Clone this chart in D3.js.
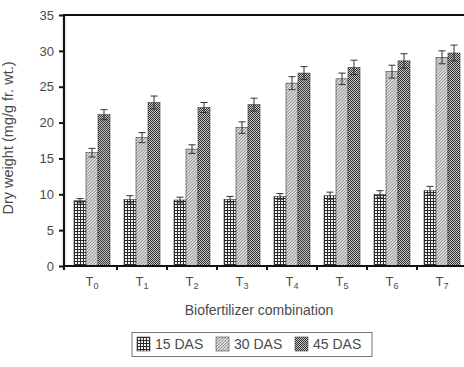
<!DOCTYPE html>
<html>
<head>
<meta charset="utf-8">
<script src="https://cdn.jsdelivr.net/npm/d3@7/dist/d3.min.js"></script>
<style>
  html, body { margin: 0; padding: 0; background: #fff; }
  svg { display: block; font-family: "Liberation Sans", Arial, sans-serif; }
</style>
</head>
<body>
<svg id="chart" width="464" height="367"></svg>
<script>
// Treatments (T0..T7) and sampling stages
const treatments = ["0", "1", "2", "3", "4", "5", "6", "7"];
const stages = ["15 DAS", "30 DAS", "45 DAS"];

// Dry weight (mg/g fr. wt.) per treatment, one array per stage
const das15 = [9.1, 9.3, 9.2, 9.3, 9.7, 9.8, 10.0, 10.5];
const das30 = [15.8, 17.9, 16.3, 19.3, 25.5, 26.1, 27.1, 29.1];
const das45 = [21.1, 22.8, 22.1, 22.5, 26.9, 27.7, 28.6, 29.7];

// Standard errors
const err15 = [0.3, 0.5, 0.4, 0.4, 0.4, 0.5, 0.5, 0.6];
const err30 = [0.6, 0.7, 0.6, 0.8, 0.9, 0.8, 0.9, 0.9];
const err45 = [0.7, 0.9, 0.7, 0.9, 0.9, 1.0, 1.0, 1.1];

const yTicks = [0, 5, 10, 15, 20, 25, 30, 35];

const seriesValues = [das15, das30, das45];
const seriesErrors = [err15, err30, err45];

const svg = d3.select("#chart");
const textColor = "#4a4a4a";

// Fill patterns for the three stages
const defs = svg.append("defs");
const pGrid = defs.append("pattern").attr("id", "pat0")
  .attr("patternUnits", "userSpaceOnUse").attr("width", 3).attr("height", 3);
pGrid.append("rect").attr("width", 3).attr("height", 3).attr("fill", "#f4f4f4");
pGrid.append("rect").attr("width", 3).attr("height", 1).attr("fill", "#2a2a2a");
pGrid.append("rect").attr("width", 1).attr("height", 3).attr("fill", "#2a2a2a");

const pDiag = defs.append("pattern").attr("id", "pat1")
  .attr("patternUnits", "userSpaceOnUse").attr("width", 2.2).attr("height", 2.2)
  .attr("patternTransform", "rotate(45)");
pDiag.append("rect").attr("width", 2.2).attr("height", 2.2).attr("fill", "#e6e6e6");
pDiag.append("rect").attr("width", 0.9).attr("height", 2.2).attr("fill", "#8c8c8c");

const pDots = defs.append("pattern").attr("id", "pat2")
  .attr("patternUnits", "userSpaceOnUse").attr("width", 2).attr("height", 2);
pDots.append("rect").attr("width", 2).attr("height", 2).attr("fill", "#c8c8c8");
pDots.append("rect").attr("width", 1).attr("height", 1).attr("fill", "#2e2e2e");
pDots.append("rect").attr("x", 1).attr("y", 1).attr("width", 1).attr("height", 1).attr("fill", "#2e2e2e");

// Scales
const x0 = d3.scaleBand().domain(treatments).range([67, 467])
  .paddingInner(0.28).paddingOuter(0.14);
const x1 = d3.scaleBand().domain(d3.range(stages.length)).range([0, x0.bandwidth()]);
const y = d3.scaleLinear().domain([0, 35]).range([266, 15]);

const axisLeft = 64;

// Bars
const groups = svg.append("g").selectAll("g")
  .data(treatments).join("g")
  .attr("transform", d => `translate(${x0(d)},0)`);

groups.selectAll("rect")
  .data((d, i) => stages.map((s, k) => ({ k, v: seriesValues[k][i], e: seriesErrors[k][i] })))
  .join("rect")
  .attr("x", d => x1(d.k))
  .attr("y", d => y(d.v))
  .attr("width", x1.bandwidth())
  .attr("height", d => y(0) - y(d.v))
  .attr("fill", d => `url(#pat${d.k})`)
  .attr("stroke", "#3a3a3a")
  .attr("stroke-width", 0.6);

// Error bars
const eb = groups.selectAll("g.err")
  .data((d, i) => stages.map((s, k) => ({ k, v: seriesValues[k][i], e: seriesErrors[k][i] })))
  .join("g").attr("class", "err")
  .attr("stroke", "#333").attr("stroke-width", 1);
eb.append("line")
  .attr("x1", d => x1(d.k) + x1.bandwidth() / 2)
  .attr("x2", d => x1(d.k) + x1.bandwidth() / 2)
  .attr("y1", d => y(d.v - d.e)).attr("y2", d => y(d.v + d.e));
[1, -1].forEach(s => {
  eb.append("line")
    .attr("x1", d => x1(d.k) + x1.bandwidth() / 2 - 3.5)
    .attr("x2", d => x1(d.k) + x1.bandwidth() / 2 + 3.5)
    .attr("y1", d => y(d.v + s * d.e)).attr("y2", d => y(d.v + s * d.e));
});

// Y axis
const yAxis = svg.append("g")
  .attr("transform", `translate(${axisLeft},0)`)
  .call(d3.axisLeft(y).tickValues(yTicks).tickSize(5).tickPadding(5).tickFormat(d3.format("d")));
yAxis.select(".domain").remove();
yAxis.selectAll(".tick line").attr("stroke", "#111").attr("stroke-width", 2);
yAxis.selectAll(".tick text").attr("fill", textColor).attr("font-size", 13)
  .attr("font-family", "Liberation Sans, Arial, sans-serif");

// Frame lines: left axis, baseline, top line
svg.append("line").attr("x1", axisLeft).attr("x2", axisLeft)
  .attr("y1", y(35) - 1).attr("y2", y(0) + 4)
  .attr("stroke", "#111").attr("stroke-width", 2.2);
svg.append("line").attr("x1", axisLeft - 1).attr("x2", 464)
  .attr("y1", y(0)).attr("y2", y(0))
  .attr("stroke", "#111").attr("stroke-width", 2.2);
svg.append("line").attr("x1", axisLeft - 1).attr("x2", 464)
  .attr("y1", y(35)).attr("y2", y(35))
  .attr("stroke", "#111").attr("stroke-width", 2.2);

// X axis: ticks between groups, labels T with subscript
const step = x0.step();
const boundaries = treatments.slice(1).map(t => x0(t) - x0.paddingInner() * step / 2);
svg.append("g").selectAll("line").data(boundaries).join("line")
  .attr("x1", d => d).attr("x2", d => d)
  .attr("y1", y(0)).attr("y2", y(0) + 4)
  .attr("stroke", "#111").attr("stroke-width", 2);

const xl = svg.append("g").selectAll("text").data(treatments).join("text")
  .attr("x", d => x0(d) + x0.bandwidth() / 2)
  .attr("y", 286)
  .attr("text-anchor", "middle")
  .attr("fill", textColor)
  .attr("font-size", 13);
xl.append("tspan").text("T");
xl.append("tspan").attr("font-size", 9).attr("dy", 3).text(d => d);

// Axis titles
svg.append("text")
  .attr("x", 259).attr("y", 315)
  .attr("text-anchor", "middle")
  .attr("fill", textColor).attr("font-size", 14)
  .text("Biofertilizer combination");

svg.append("text")
  .attr("transform", "translate(13,138) rotate(-90)")
  .attr("text-anchor", "middle")
  .attr("fill", textColor).attr("font-size", 14.5)
  .text("Dry weight (mg/g fr. wt.)");

// Legend
const legend = svg.append("g");
legend.append("rect")
  .attr("x", 132).attr("y", 332.5).attr("width", 240).attr("height", 24)
  .attr("fill", "#fff").attr("stroke", "#777").attr("stroke-width", 1);
const legendX = [137, 216, 295];
const li = legend.selectAll("g.item").data(stages).join("g").attr("class", "item")
  .attr("transform", (d, i) => `translate(${legendX[i]},337)`);
li.append("rect").attr("width", 13).attr("height", 14)
  .attr("fill", (d, i) => `url(#pat${i})`)
  .attr("stroke", "#444").attr("stroke-width", 0.6);
li.append("text").attr("x", 18).attr("y", 12)
  .attr("fill", textColor).attr("font-size", 14)
  .text(d => d);
</script>
</body>
</html>
